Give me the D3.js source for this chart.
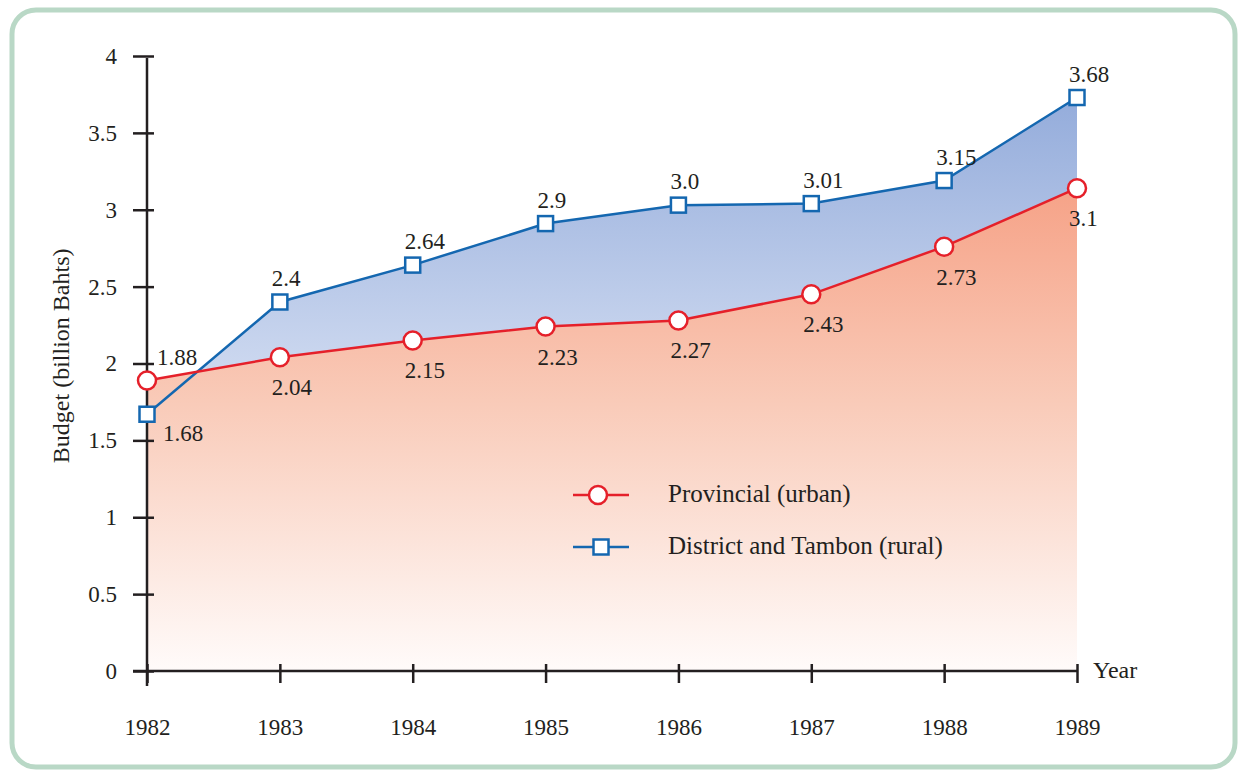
<!DOCTYPE html>
<html>
<head>
<meta charset="utf-8">
<script src="https://cdn.jsdelivr.net/npm/d3@7"></script>
<style>
  body { margin: 0; background: #fff; }
  #chart, #chart text { font-family: 'Liberation Serif', 'Times New Roman', serif !important; }
</style>
</head>
<body>
<svg id="chart" width="1238" height="770"></svg>
<script>
// data
var years = [1982, 1983, 1984, 1985, 1986, 1987, 1988, 1989];
var provincial = [1.89, 2.04, 2.15, 2.24, 2.28, 2.45, 2.76, 3.14];
var district = [1.67, 2.40, 2.64, 2.91, 3.03, 3.04, 3.19, 3.73];
var provincialLabels = ["1.88", "2.04", "2.15", "2.23", "2.27", "2.43", "2.73", "3.1"];
var districtLabels = ["1.68", "2.4", "2.64", "2.9", "3.0", "3.01", "3.15", "3.68"];
var yTicks = [0, 0.5, 1, 1.5, 2, 2.5, 3, 3.5, 4];
var seriesNames = ["Provincial (urban)", "District and Tambon (rural)"];

var red = "#e5202a", blue = "#1467b0", ink = "#231f20";
var FONT = "'Liberation Serif', serif";

var svg = d3.select("#chart").style("font-family", FONT);

// frame
svg.append("rect")
  .attr("x", 12).attr("y", 10)
  .attr("width", 1223).attr("height", 757)
  .attr("rx", 24)
  .attr("fill", "#fff")
  .attr("stroke", "#b9d8c6")
  .attr("stroke-width", 5);

var x = d3.scaleLinear().domain([1982, 1989]).range([147, 1077]);
var y = d3.scaleLinear().domain([0, 4]).range([671, 56]);

var defs = svg.append("defs");
var gOr = defs.append("linearGradient").attr("id", "gOr")
  .attr("gradientUnits", "userSpaceOnUse")
  .attr("x1", 0).attr("x2", 0).attr("y1", y(3.15)).attr("y2", y(0));
gOr.append("stop").attr("offset", 0).attr("stop-color", "#f6a287");
gOr.append("stop").attr("offset", 0.45).attr("stop-color", "#f9cbb9");
gOr.append("stop").attr("offset", 1).attr("stop-color", "#fffbfa");
var gBl = defs.append("linearGradient").attr("id", "gBl")
  .attr("gradientUnits", "userSpaceOnUse")
  .attr("x1", 0).attr("x2", 0).attr("y1", y(3.73)).attr("y2", y(2));
gBl.append("stop").attr("offset", 0).attr("stop-color", "#94acdb");
gBl.append("stop").attr("offset", 1).attr("stop-color", "#cbd7ef");

var area = function (vals) {
  return d3.area()
    .x(function (d, i) { return x(years[i]); })
    .y0(y(0))
    .y1(function (d) { return y(d); })(vals);
};
svg.append("path").attr("d", area(district)).attr("fill", "url(#gBl)");
svg.append("path").attr("d", area(provincial)).attr("fill", "url(#gOr)");

// axes
var yAxis = svg.append("g").attr("transform", "translate(" + x(1982) + ",0)")
  .call(d3.axisLeft(y).tickValues(yTicks).tickSize(14).tickPadding(16)
    .tickFormat(function (d) { return d; }));
yAxis.attr("font-family", null).attr("font-size", 23);
yAxis.select(".domain").remove();
yAxis.selectAll(".tick line").attr("x1", 7).attr("x2", -14)
  .attr("stroke", ink).attr("stroke-width", 2.5);
yAxis.selectAll(".tick text").attr("fill", ink);

var xAxis = svg.append("g").attr("transform", "translate(0," + y(0) + ")")
  .call(d3.axisBottom(x).tickValues(years).tickSize(12).tickPadding(36)
    .tickFormat(d3.format("d")));
xAxis.attr("font-family", null).attr("font-size", 23);
xAxis.select(".domain").remove();
xAxis.selectAll(".tick line").attr("y1", -7).attr("y2", 12)
  .attr("stroke", ink).attr("stroke-width", 2.5);
xAxis.selectAll(".tick text").attr("fill", ink);

svg.append("line").attr("x1", x(1982)).attr("x2", x(1982))
  .attr("y1", y(4) + 2).attr("y2", y(0) + 15)
  .attr("stroke", ink).attr("stroke-width", 2.5);
svg.append("line").attr("x1", x(1982) - 14).attr("x2", x(1989))
  .attr("y1", y(0)).attr("y2", y(0))
  .attr("stroke", ink).attr("stroke-width", 2.5);

svg.append("text").attr("x", x(1989) + 16).attr("y", y(0) + 7)
  .attr("font-size", 24).attr("fill", ink).text("Year");
svg.append("text")
  .attr("transform", "translate(69," + y(2.05) + ") rotate(-90)")
  .attr("text-anchor", "middle").attr("font-size", 24).attr("fill", ink)
  .text("Budget (billion Bahts)");

// lines
var line = d3.line().x(function (d, i) { return x(years[i]); }).y(function (d) { return y(d); });
svg.append("path").attr("d", line(district)).attr("fill", "none")
  .attr("stroke", blue).attr("stroke-width", 2.5);
svg.append("path").attr("d", line(provincial)).attr("fill", "none")
  .attr("stroke", red).attr("stroke-width", 2.5);

function square(g, cx, cy) {
  g.append("rect").attr("x", cx - 7.5).attr("y", cy - 7.5)
    .attr("width", 15).attr("height", 15)
    .attr("fill", "#fff").attr("stroke", blue).attr("stroke-width", 2.5);
}
function circle(g, cx, cy) {
  g.append("circle").attr("cx", cx).attr("cy", cy).attr("r", 9)
    .attr("fill", "#fff").attr("stroke", red).attr("stroke-width", 2.5);
}

var marks = svg.append("g");
district.forEach(function (d, i) { square(marks, x(years[i]), y(d)); });
provincial.forEach(function (d, i) { circle(marks, x(years[i]), y(d)); });

// value labels
var labels = svg.append("g").attr("font-size", 23).attr("fill", ink);
districtLabels.forEach(function (t, i) {
  var px = x(years[i]), py = y(district[i]);
  if (i == 0) {
    labels.append("text").attr("x", px + 16).attr("y", py + 27).text(t);
  } else {
    labels.append("text").attr("x", px - 8).attr("y", py - 16).text(t);
  }
});
provincialLabels.forEach(function (t, i) {
  var px = x(years[i]), py = y(provincial[i]);
  if (i == 0) {
    labels.append("text").attr("x", px + 10).attr("y", py - 15).text(t);
  } else {
    labels.append("text").attr("x", px - 8).attr("y", py + 38).text(t);
  }
});

// legend
var leg = svg.append("g").attr("font-size", 25).attr("fill", ink);
leg.append("line").attr("x1", 573).attr("x2", 629).attr("y1", 495).attr("y2", 495)
  .attr("stroke", red).attr("stroke-width", 2.5);
circle(leg, 598, 495);
leg.append("text").attr("x", 668).attr("y", 502).text(seriesNames[0]);
leg.append("line").attr("x1", 573).attr("x2", 629).attr("y1", 547).attr("y2", 547)
  .attr("stroke", blue).attr("stroke-width", 2.5);
square(leg, 601, 547);
leg.append("text").attr("x", 668).attr("y", 554).text(seriesNames[1]);
</script>
</body>
</html>
